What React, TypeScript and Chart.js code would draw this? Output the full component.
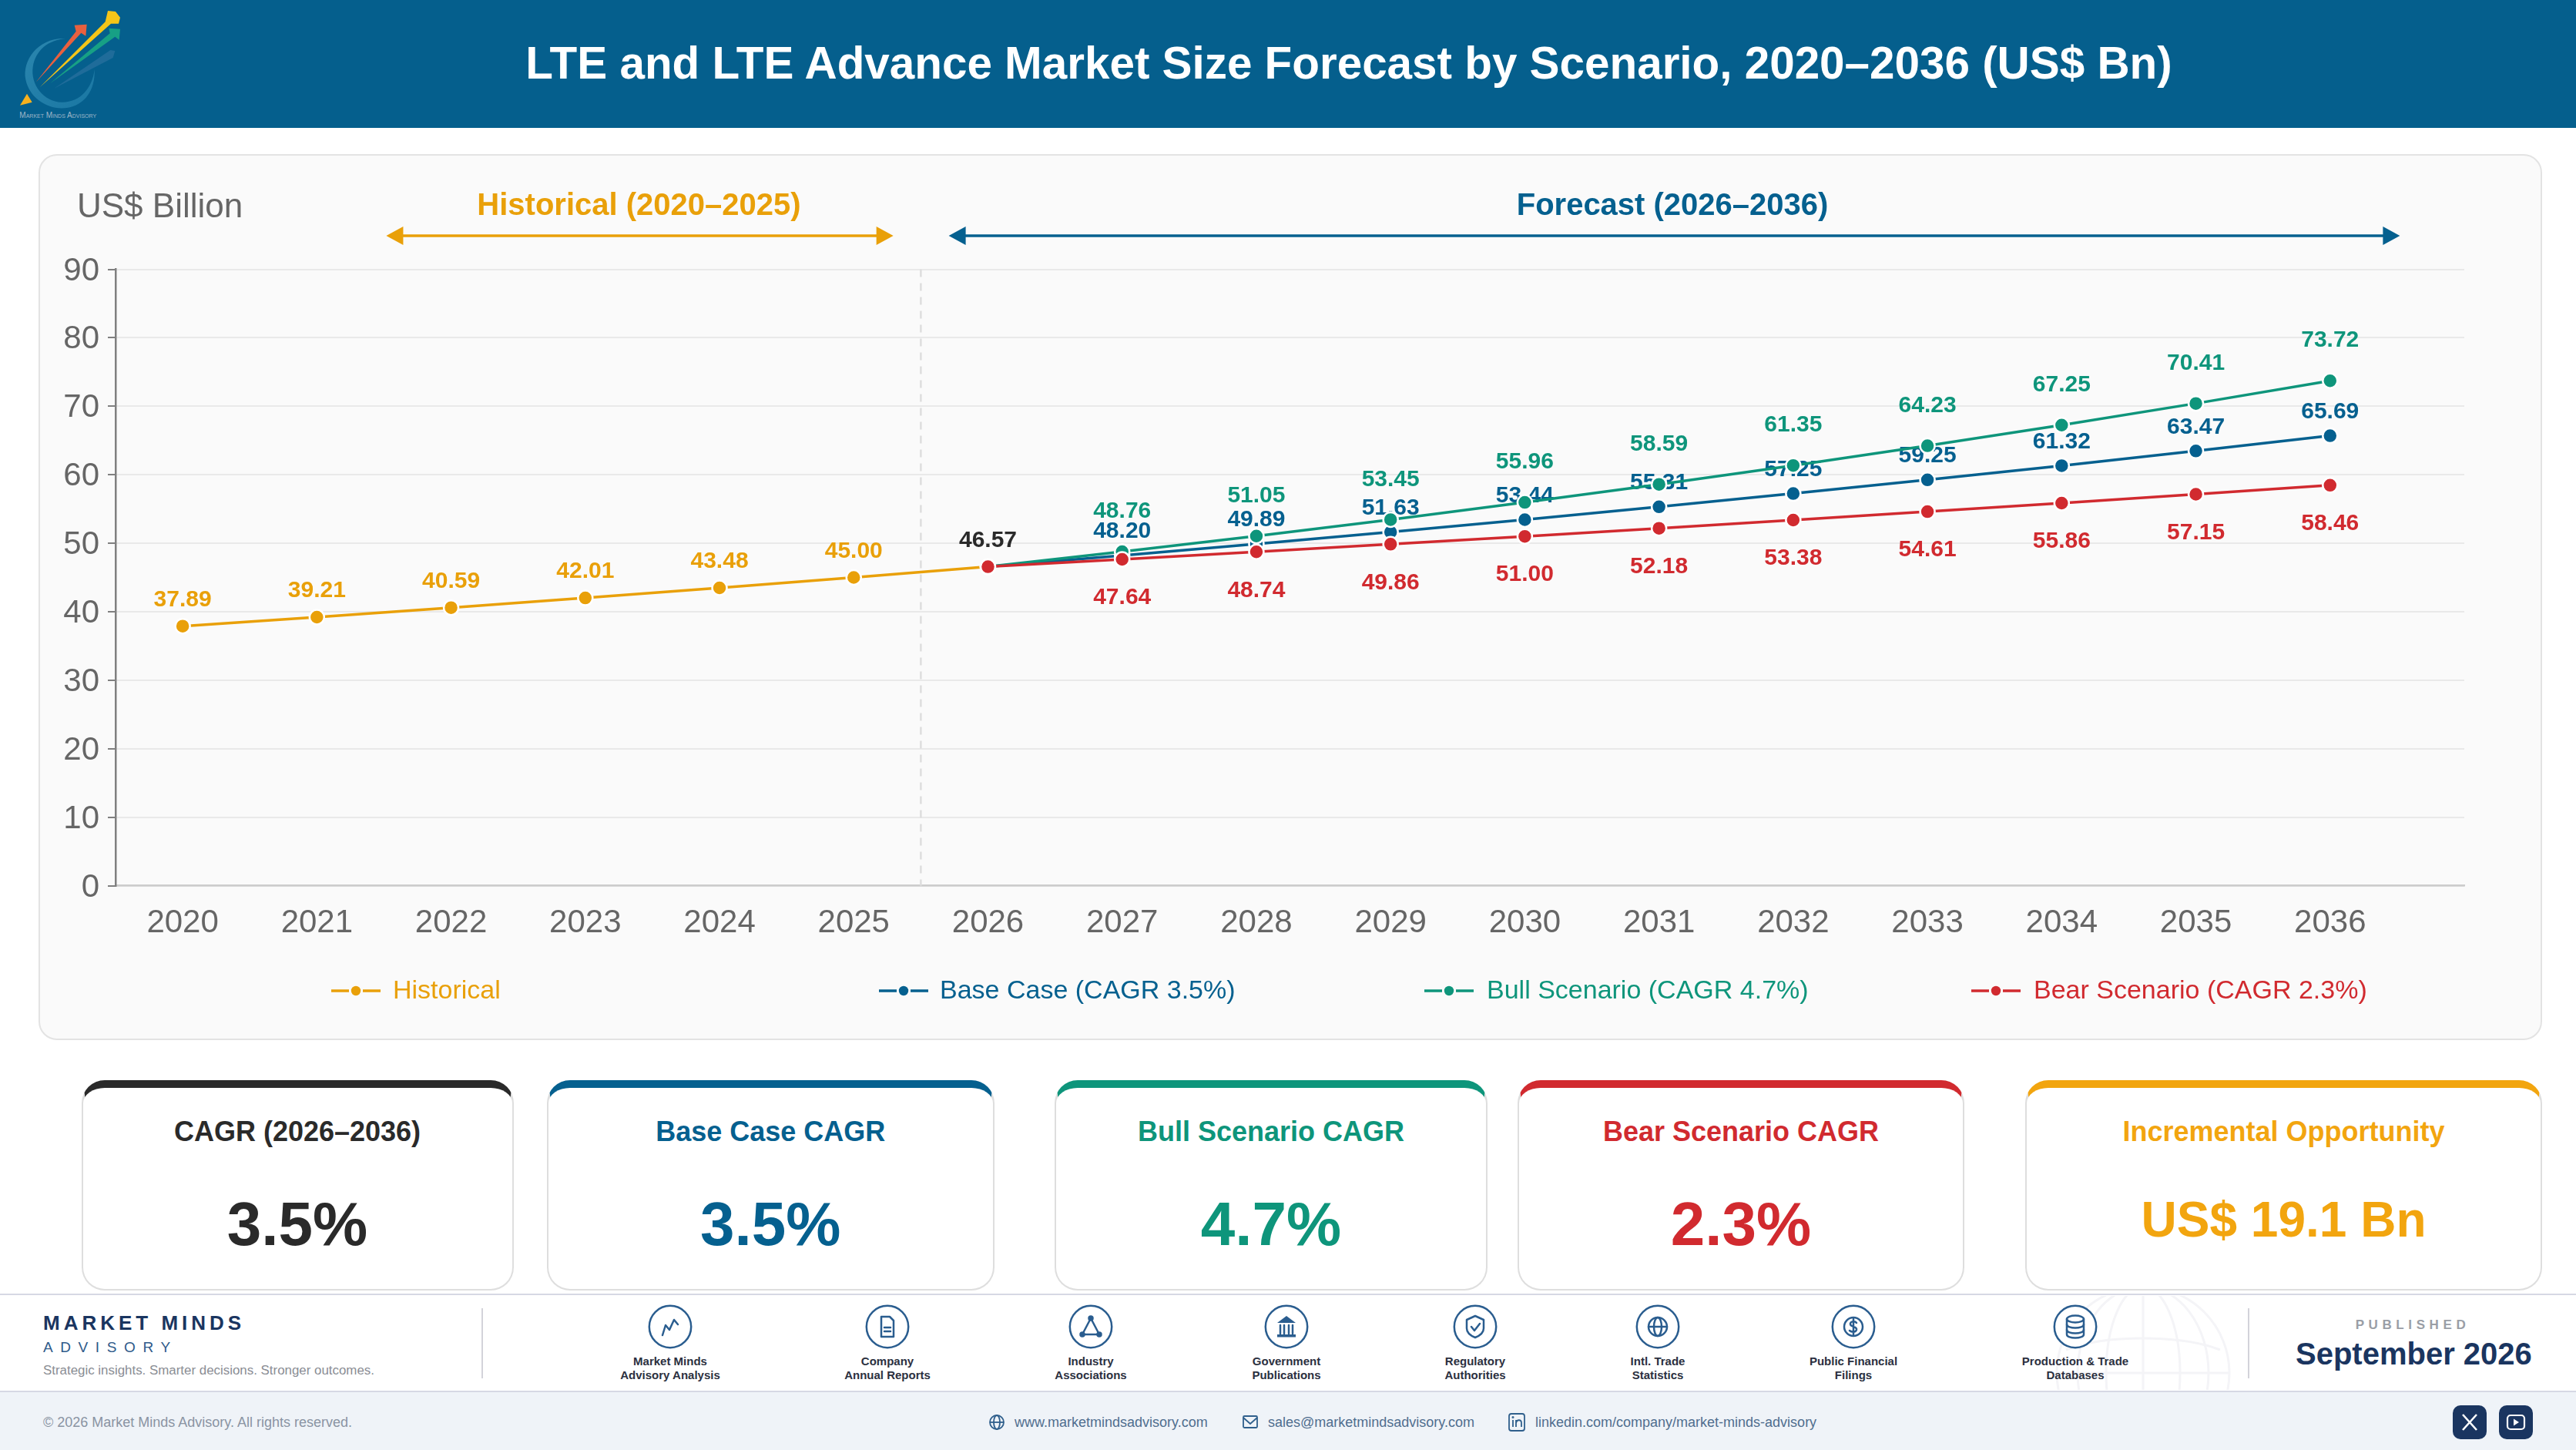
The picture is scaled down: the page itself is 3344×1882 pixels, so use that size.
import React, { useEffect, useRef } from "react";
import { Chart, registerables } from "chart.js";

Chart.register(...registerables);

const FONT = "'Liberation Sans', Arial, Helvetica, sans-serif";
const TITLE = "LTE and LTE Advance Market Size Forecast by Scenario, 2020–2036 (US$ Bn)";

const years = [2020, 2021, 2022, 2023, 2024, 2025, 2026, 2027, 2028, 2029, 2030, 2031, 2032, 2033, 2034, 2035, 2036];
const historical = [37.89, 39.21, 40.59, 42.01, 43.48, 45.0, 46.57, null, null, null, null, null, null, null, null, null, null];
const baseCase = [null, null, null, null, null, null, 46.57, 48.2, 49.89, 51.63, 53.44, 55.31, 57.25, 59.25, 61.32, 63.47, 65.69];
const bull = [null, null, null, null, null, null, 46.57, 48.76, 51.05, 53.45, 55.96, 58.59, 61.35, 64.23, 67.25, 70.41, 73.72];
const bear = [null, null, null, null, null, null, 46.57, 47.64, 48.74, 49.86, 51.0, 52.18, 53.38, 54.61, 55.86, 57.15, 58.46];

const COLORS = { hist: "#E9A009", base: "#05608F", bull: "#0E957B", bear: "#D12A2F", ink: "#2A2A2A" };
const NAVY = "#1A3560";

const legendItems = [
  { name: "Historical", color: COLORS.hist, x: 430, tx: 510 },
  { name: "Base Case (CAGR 3.5%)", color: COLORS.base, x: 1141, tx: 1220 },
  { name: "Bull Scenario (CAGR 4.7%)", color: COLORS.bull, x: 1849, tx: 1930 },
  { name: "Bear Scenario (CAGR 2.3%)", color: COLORS.bear, x: 2559, tx: 2640 },
];

const kpis = [
  { label: "CAGR (2026–2036)", value: "3.5%", color: COLORS.ink, x: 105.5, r: 666.5, size: 80 },
  { label: "Base Case CAGR", value: "3.5%", color: COLORS.base, x: 709.5, r: 1291, size: 80 },
  { label: "Bull Scenario CAGR", value: "4.7%", color: COLORS.bull, x: 1369, r: 1931, size: 80 },
  { label: "Bear Scenario CAGR", value: "2.3%", color: COLORS.bear, x: 1970, r: 2550, size: 80 },
  { label: "Incremental Opportunity", value: "US$ 19.1 Bn", color: "#F2A50F", x: 2629, r: 3300, size: 64 },
];

const sources = [
  { lines: ["Market Minds", "Advisory Analysis"], x: 870, icon: "chart" },
  { lines: ["Company", "Annual Reports"], x: 1152, icon: "doc" },
  { lines: ["Industry", "Associations"], x: 1416, icon: "tri" },
  { lines: ["Government", "Publications"], x: 1670, icon: "bank" },
  { lines: ["Regulatory", "Authorities"], x: 1915, icon: "shield" },
  { lines: ["Intl. Trade", "Statistics"], x: 2152, icon: "globe" },
  { lines: ["Public Financial", "Filings"], x: 2406, icon: "coin" },
  { lines: ["Production & Trade", "Databases"], x: 2694, icon: "db" },
];

const contacts = [
  { text: "www.marketmindsadvisory.com", x: 1317, icon: "globe", ix: 1294 },
  { text: "sales@marketmindsadvisory.com", x: 1646, icon: "mail", ix: 1623 },
  { text: "linkedin.com/company/market-minds-advisory", x: 1993, icon: "in", ix: 1969 },
];

const labelPlugin = {
  id: "valueLabels",
  beforeDatasetsDraw(chart: any) {
    const { ctx, scales: { x, y } } = chart;
    // forecast divider
    ctx.save();
    ctx.strokeStyle = "#DEDEDE";
    ctx.lineWidth = 2.5;
    ctx.setLineDash([10, 8]);
    const dx = x.getPixelForValue(2025.5);
    ctx.beginPath();
    ctx.moveTo(dx, y.getPixelForValue(90));
    ctx.lineTo(dx, y.getPixelForValue(0));
    ctx.stroke();
    ctx.setLineDash([]);
    ctx.restore();

    ctx.save();
    ctx.font = `bold 30px ${FONT}`;
    ctx.textAlign = "center";
    ctx.textBaseline = "middle";
    const put = (arr: (number | null)[], color: string, dy: number, skip2026: boolean) => {
      arr.forEach((v, i) => {
        if (v == null) return;
        if (skip2026 && years[i] === 2026) return;
        ctx.fillStyle = years[i] === 2026 ? COLORS.ink : color;
        ctx.fillText(v.toFixed(2), x.getPixelForValue(years[i]), y.getPixelForValue(v) + dy);
      });
    };
    put(historical, COLORS.hist, -34, false);
    put(baseCase, COLORS.base, -31, true);
    put(bull, COLORS.bull, -52, true);
    put(bear, COLORS.bear, 50, true);
    ctx.restore();
  },
  afterDraw(chart: any) {
    const { ctx, scales: { x } } = chart;
    ctx.save();
    ctx.fillStyle = "#666666";
    ctx.font = `44px ${FONT}`;
    ctx.textAlign = "left";
    ctx.textBaseline = "middle";
    ctx.fillText("US$ Billion", 50, 70);
    const span = (a: number, b: number, color: string, text: string, cx: number) => {
      const xa = x.getPixelForValue(a), xb = x.getPixelForValue(b), yy = 106;
      ctx.strokeStyle = color;
      ctx.fillStyle = color;
      ctx.lineWidth = 3.5;
      ctx.beginPath();
      ctx.moveTo(xa + 10, yy);
      ctx.lineTo(xb - 10, yy);
      ctx.stroke();
      ctx.beginPath();
      ctx.moveTo(xa, yy); ctx.lineTo(xa + 22, yy - 12); ctx.lineTo(xa + 22, yy + 12); ctx.closePath();
      ctx.moveTo(xb, yy); ctx.lineTo(xb - 22, yy - 12); ctx.lineTo(xb - 22, yy + 12); ctx.closePath();
      ctx.fill();
      ctx.font = `bold 40px ${FONT}`;
      ctx.textAlign = "center";
      ctx.fillText(text, x.getPixelForValue(cx), 68);
    };
    span(2021.517, 2025.295, COLORS.hist, "Historical (2020–2025)", 2023.4);
    span(2025.708, 2036.52, COLORS.base, "Forecast (2026–2036)", 2031.1);
    ctx.restore();
  },
};

function Icon({ kind, c = "#2A5D8F", s = 2.5 }: { kind: string; c?: string; s?: number }) {
  const p = { fill: "none", stroke: c, strokeWidth: s, strokeLinecap: "round" as const, strokeLinejoin: "round" as const };
  switch (kind) {
    case "chart":
      return <path {...p} d="M-10 11 L-6 -2 L-1 4 L5 -9 L10 -3" />;
    case "doc":
      return (
        <g {...p}>
          <path d="M-8 -13 H3 L8 -8 V13 H-8 Z" />
          <path d="M-4 1 H4 M-4 6 H4" />
        </g>
      );
    case "tri":
      return (
        <g {...p}>
          <path d="M0 -11 L-11 10 H11 Z" />
          <circle cx="0" cy="-11" r="2.5" fill={c} />
          <circle cx="-11" cy="10" r="2.5" fill={c} />
          <circle cx="11" cy="10" r="2.5" fill={c} />
        </g>
      );
    case "bank":
      return (
        <g>
          <path d="M0 -14 L12 -5 H-12 Z" fill={c} />
          <path {...p} d="M-8 -2 V9 M-3 -2 V9 M3 -2 V9 M8 -2 V9" />
          <rect x="-12" y="10" width="24" height="3.5" fill={c} />
        </g>
      );
    case "shield":
      return (
        <g {...p}>
          <path d="M0 -14 L11 -9 V2 C11 8 5 12 0 14 C-5 12 -11 8 -11 2 V-9 Z" />
          <path d="M-5 0 L-1 5 L6 -4" />
        </g>
      );
    case "globe":
      return (
        <g {...p}>
          <circle r="12" />
          <ellipse rx="5" ry="12" />
          <path d="M-12 0 H12" />
        </g>
      );
    case "coin":
      return (
        <g {...p}>
          <circle r="12" />
          <path d="M4 -5 C2 -8 -5 -7 -4 -3 C-3 1 5 -1 4 4 C3 8 -3 7 -5 5 M0 -10 V10" />
        </g>
      );
    case "db":
      return (
        <g {...p}>
          <ellipse cy="-10" rx="11" ry="4.5" />
          <path d="M-11 -10 V10 C-11 16 11 16 11 10 V-10" />
          <path d="M-11 -3 C-11 3 11 3 11 -3 M-11 4 C-11 10 11 10 11 4" />
        </g>
      );
    default:
      return null;
  }
}

function Logo() {
  return (
    <svg style={{ position: "absolute", left: 0, top: 0 }} width={200} height={166} viewBox="0 0 600 498">
      <defs>
        <linearGradient id="ring" x1="0" y1="0" x2="1" y2="1">
          <stop offset="0" stopColor="#2B86AE" />
          <stop offset="1" stopColor="#1A77A3" />
        </linearGradient>
      </defs>
      <path d="M255 150 C150 145 85 235 100 310 C115 385 190 430 260 420 C330 410 372 350 368 270 C360 345 310 400 240 398 C170 396 118 330 128 260 C138 195 190 155 255 150 Z" fill="url(#ring)" />
      <path d="M210 345 L430 195 L448 198 L440 225 Z" fill="#1F6C9A" />
      <path d="M140 320 L296 122 L290 98 L338 95 L334 140 L316 128 Z" fill="#E8603F" />
      <path d="M195 325 L428 130 L424 110 L468 113 L464 155 L448 143 Z" fill="#17A085" />
      <path d="M155 340 L410 85 L420 42 L450 45 L468 68 L462 92 L432 92 Z" fill="#F5C518" />
      <path d="M105 365 L125 398 L78 410 Z" fill="#F7B11E" />
      <text x="76" y="460" fontFamily={FONT} fontSize="30" fill="#9FB6C8" style={{ fontVariant: "small-caps" }}>Market Minds Advisory</text>
    </svg>
  );
}

function abs(left: number, top: number, extra: React.CSSProperties = {}): React.CSSProperties {
  return { position: "absolute", left, top, ...extra };
}

export default function App() {
  const ref = useRef<HTMLCanvasElement | null>(null);
  useEffect(() => {
    document.body.style.margin = "0";
    document.body.style.background = "#fff";
    const point = { pointRadius: 9.5, pointBorderWidth: 2.5, pointBorderColor: "#FFFFFF", pointHoverRadius: 9.5 };
    const chart = new Chart(ref.current as HTMLCanvasElement, {
      type: "line",
      data: {
        labels: years,
        datasets: [
          { label: "Historical", data: historical, borderColor: COLORS.hist, pointBackgroundColor: COLORS.hist, order: 3, ...point },
          { label: "Base Case (CAGR 3.5%)", data: baseCase, borderColor: COLORS.base, pointBackgroundColor: COLORS.base, order: 2, ...point },
          { label: "Bull Scenario (CAGR 4.7%)", data: bull, borderColor: COLORS.bull, pointBackgroundColor: COLORS.bull, order: 1, ...point },
          { label: "Bear Scenario (CAGR 2.3%)", data: bear, borderColor: COLORS.bear, pointBackgroundColor: COLORS.bear, order: 0, ...point },
        ],
      },
      options: {
        responsive: false,
        animation: false,
        devicePixelRatio: 1,
        layout: { padding: { left: 0, top: 149.5, right: 101, bottom: 0 } },
        elements: { line: { borderWidth: 3.5, tension: 0 } },
        plugins: { legend: { display: false }, tooltip: { enabled: false }, title: { display: false } },
        scales: {
          x: {
            type: "linear",
            min: 2019.5,
            max: 2037,
            afterBuildTicks: (s: any) => { s.ticks = years.map((v) => ({ value: v })); },
            afterFit: (s: any) => { s.height = 200.5; },
            grid: { display: false, drawTicks: false },
            border: { color: "#CCCCCC", width: 2.5 },
            ticks: {
              autoSkip: false,
              maxRotation: 0,
              padding: 24,
              color: "#666666",
              font: { family: FONT, size: 42 },
              callback: (v: any) => String(v),
            },
          },
          y: {
            min: 0,
            max: 90,
            afterFit: (s: any) => {
              s.width = 100;
              // nudge the tick labels so the digits sit centred on their tick marks
              if (!s.__nudged) {
                const orig = s._computeLabelItems;
                s._computeLabelItems = function (area: any) {
                  return orig.call(this, area).map((it: any) => ({ ...it, textOffset: (it.textOffset || 0) + 2.5 }));
                };
                s.__nudged = true;
              }
            },
            grid: { color: "#E9E9E9", lineWidth: 2, tickColor: "#808080", tickWidth: 2, tickLength: 10 },
            border: { color: "#808080", width: 2.5 },
            ticks: { stepSize: 10, padding: 11, color: "#666666", font: { family: FONT, size: 42 } },
          },
        },
      } as any,
      plugins: [labelPlugin as any],
    });
    return () => chart.destroy();
  }, []);

  return (
    <div style={{ position: "absolute", left: 0, top: 0, width: 3344, height: 1882, overflow: "hidden", background: "#fff", fontFamily: FONT }}>
      {/* header */}
      <div style={abs(0, 0, { width: 3344, height: 166, background: "#055F8D" })} />
      <Logo />
      <div style={abs(365, 0, { width: 2772, height: 163, lineHeight: "163px", textAlign: "center", color: "#fff", fontWeight: 700, fontSize: 58.4, whiteSpace: "nowrap" })}>{TITLE}</div>

      {/* chart card */}
      <div style={abs(50, 200, { width: 3250, height: 1150, boxSizing: "border-box", background: "#FAFAFA", border: "2.5px solid #E3E3E3", borderRadius: 24 })} />
      <canvas ref={ref} width={3250} height={1150} style={abs(50, 200, { width: 3250, height: 1150 })} />
      {legendItems.map((l) => (
        <React.Fragment key={l.name}>
          <svg style={abs(l.x, 1270)} width={64} height={32}>
            <path d="M0 16 H23 M41 16 H64" stroke={l.color} strokeWidth="3.5" />
            <circle cx="32" cy="16" r="6.2" fill={l.color} />
          </svg>
          <div style={abs(l.tx, 1264, { fontSize: 34, lineHeight: "40px", color: l.color, whiteSpace: "nowrap" })}>{l.name}</div>
        </React.Fragment>
      ))}

      {/* KPI cards */}
      {kpis.map((k) => (
        <div key={k.label} style={abs(k.x, 1402, { width: k.r - k.x, height: 273, boxSizing: "border-box", background: "#fff", borderTop: `10px solid ${k.color}`, borderLeft: "2px solid #DEDEDE", borderRight: "2px solid #DEDEDE", borderBottom: "2.5px solid #DEDEDE", borderRadius: 30 })}>
          <div style={{ position: "absolute", left: 0, right: 0, top: 36, textAlign: "center", fontWeight: 700, fontSize: 36, lineHeight: "42px", color: k.color, whiteSpace: "nowrap" }}>{k.label}</div>
          <div style={{ position: "absolute", left: 0, right: 0, top: k.size === 80 ? 132 : 126, textAlign: "center", fontWeight: 700, fontSize: k.size, lineHeight: "90px", color: k.color, whiteSpace: "nowrap" }}>{k.value}</div>
        </div>
      ))}

      {/* footer band */}
      <div style={abs(0, 1679, { width: 3344, height: 128, boxSizing: "border-box", background: "#fff", borderTop: "2.5px solid #D6D8E4", borderBottom: "2.5px solid #D6D8E4" })} />
      <svg style={abs(2650, 1682)} width={270} height={122} fill="none" stroke="#F4F4F7" strokeWidth="3">
        <g transform="translate(132,100)">
          <circle r="112" />
          <ellipse rx="48" ry="112" />
          <ellipse rx="85" ry="112" />
          <path d="M-112 0 H112 M0 -112 V112" />
          <path d="M-100 -30 C-50 -50 50 -50 100 -30" />
        </g>
      </svg>
      <div style={abs(56, 1701, { fontSize: 26, lineHeight: "32px", fontWeight: 700, letterSpacing: 5, color: NAVY, whiteSpace: "nowrap" })}>MARKET MINDS</div>
      <div style={abs(56, 1737, { fontSize: 19, lineHeight: "24px", letterSpacing: 9.6, color: "#2E5A8A", whiteSpace: "nowrap" })}>ADVISORY</div>
      <div style={abs(56, 1768, { fontSize: 16.9, lineHeight: "22px", color: "#8A8D94", whiteSpace: "nowrap" })}>Strategic insights. Smarter decisions. Stronger outcomes.</div>
      <div style={abs(625, 1698, { width: 2, height: 91, background: "#D3D3DA" })} />
      <div style={abs(2918, 1698, { width: 2, height: 91, background: "#D3D3DA" })} />

      {sources.map((s) => (
        <React.Fragment key={s.lines[0]}>
          <svg style={abs(s.x - 30, 1692)} width={60} height={60}>
            <circle cx="30" cy="30" r="27.2" fill="#fff" stroke="#2A5D8F" strokeWidth="2.5" />
            <g transform="translate(30,30)"><Icon kind={s.icon} /></g>
          </svg>
          <div style={abs(s.x - 120, 1758, { width: 240, textAlign: "center", fontSize: 15, lineHeight: "18px", fontWeight: 700, color: "#2B3040" })}>
            {s.lines.map((t) => <div key={t}>{t}</div>)}
          </div>
        </React.Fragment>
      ))}

      <div style={abs(3012, 1709, { width: 240, textAlign: "center", fontSize: 17, lineHeight: "22px", fontWeight: 700, letterSpacing: 5.6, color: "#9A9EA6", whiteSpace: "nowrap" })}>PUBLISHED</div>
      <div style={abs(2980, 1733, { width: 300, textAlign: "center", fontSize: 40, lineHeight: "48px", fontWeight: 700, color: NAVY, whiteSpace: "nowrap" })}>September 2026</div>

      {/* bottom bar */}
      <div style={abs(0, 1807, { width: 3344, height: 75, background: "#EFF3F8" })} />
      <div style={abs(56, 1835, { fontSize: 18, lineHeight: "22px", color: "#8A94A3", whiteSpace: "nowrap" })}>© 2026 Market Minds Advisory. All rights reserved.</div>
      {contacts.map((c) => (
        <React.Fragment key={c.text}>
          <svg style={abs(c.ix - 13, 1833)} width={26} height={26} viewBox="-13 -13 26 26" fill="none" stroke="#2F5F8C" strokeWidth="1.8">
            {c.icon === "globe" && <g><circle r="9" /><ellipse rx="4" ry="9" /><path d="M-9 0 H9" /></g>}
            {c.icon === "mail" && <g><rect x="-9" y="-8" width="18" height="15" rx="1.5" /><path d="M-9 -6 L0 2 L9 -6" /></g>}
            {c.icon === "in" && <g><rect x="-10" y="-11" width="20" height="22" rx="3" /><path d="M-5 -3 V6 M-1 6 V-3 M-1 1 C0 -4 6 -4 6 1 V6" /><circle cx="-5" cy="-6.5" r=".6" /></g>}
          </svg>
          <div style={abs(c.x, 1835, { fontSize: 18, lineHeight: "22px", color: "#4F6E8F", whiteSpace: "nowrap" })}>{c.text}</div>
        </React.Fragment>
      ))}
      <svg style={abs(3184, 1824)} width={44} height={44}>
        <rect width="44" height="44" rx="10" fill={NAVY} />
        <path d="M13 12 L31 32 M31 12 L13 32" stroke="#fff" strokeWidth="2.6" />
      </svg>
      <svg style={abs(3244, 1824)} width={44} height={44}>
        <rect width="44" height="44" rx="10" fill={NAVY} />
        <rect x="11" y="13" width="22" height="18" rx="4" fill="none" stroke="#fff" strokeWidth="2.2" />
        <path d="M19 17.5 L26 22 L19 26.5 Z" fill="#fff" />
      </svg>
    </div>
  );
}
